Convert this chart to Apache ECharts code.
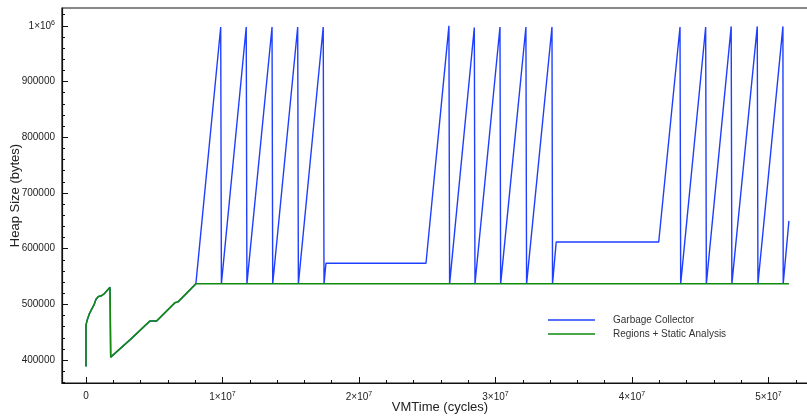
<!DOCTYPE html>
<html>
<head>
<meta charset="utf-8">
<script src="https://cdn.jsdelivr.net/npm/echarts@6/dist/echarts.min.js"></script>
<style>html,body{margin:0;padding:0;background:#fff}#c{width:807px;height:416px}</style>
</head>
<body>
<div id="c"></div>
<script>
// shared start-up phase (both runs identical)
const startTime = [0, 0, 95000, 242000, 388000, 586000, 733000, 900000, 1150000, 1320000, 1758000, 1810000, 3220000, 4690000, 5180000, 6520000, 6760000, 8050000];
const startHeap = [388500, 463300, 472300, 483000, 490100, 499100, 509300, 514000, 515800, 518800, 530800, 405400, 436400, 470400, 470400, 503200, 505000, 537000];

// Garbage Collector (after start-up)
const gcTime = [9870000, 9920000, 11740000, 11790000, 13630000, 13680000, 15510000, 15560000, 17380000, 17440000, 17580000, 24910000,
  26590000, 26640000, 28450000, 28500000, 30330000, 30380000, 32230000, 32280000, 34140000, 34180000, 34450000, 41960000,
  43520000, 43570000, 45400000, 45450000, 47270000, 47320000, 49180000, 49230000, 51060000, 51080000, 51500000];
const gcHeap = [998000, 537000, 998000, 537000, 998000, 537000, 998000, 537000, 998000, 537000, 574000, 574000,
  1000000, 537000, 997000, 537000, 998000, 537000, 998000, 537000, 998000, 537000, 612000, 612000,
  998000, 537000, 998000, 537000, 999000, 537000, 999000, 537000, 999000, 537000, 650000];

// Regions + Static Analysis (after start-up)
const regTime = [51500000];
const regHeap = [537000];

// axis ticks
const xMajorTicks = [0, 10000000, 20000000, 30000000, 40000000, 50000000];
const xTickLabels = ['0', '1×10{sup|7}', '2×10{sup|7}', '3×10{sup|7}', '4×10{sup|7}', '5×10{sup|7}'];
const xMinorTicks = [2e6, 4e6, 6e6, 8e6, 12e6, 14e6, 16e6, 18e6, 22e6, 24e6, 26e6, 28e6, 32e6, 34e6, 36e6, 38e6, 42e6, 44e6, 46e6, 48e6, 52e6];
const yMajorTicks = [400000, 500000, 600000, 700000, 800000, 900000, 1000000];
const yTickLabels = ['400000', '500000', '600000', '700000', '800000', '900000', '1×10{sup|6}'];
const yMinorTicks = [360000, 380000, 420000, 440000, 460000, 480000, 520000, 540000, 560000, 580000, 620000, 640000, 660000, 680000,
  720000, 740000, 760000, 780000, 820000, 840000, 860000, 880000, 920000, 940000, 960000, 980000, 1020000];

const X_MIN = -1758000, X_MAX = 53630000;
const Y_MIN = 359000, Y_MAX = 1032000;

function pairs(t, v) { return t.map((x, i) => [x, v[i]]); }
const gcData = pairs(startTime, startHeap).concat(pairs(gcTime, gcHeap));
const regData = pairs(startTime, startHeap).concat(pairs(regTime, regHeap));

const xLabelMap = {}; xMajorTicks.forEach((v, i) => xLabelMap[v] = xTickLabels[i]);
const yLabelMap = {}; yMajorTicks.forEach((v, i) => yLabelMap[v] = yTickLabels[i]);

const font = 'Liberation Sans, Arial, Helvetica, sans-serif';
const rich = {
  sup: { fontSize: 7, padding: [0, 0, 6, 0], fontFamily: font, color: '#222' }
};

const chart = echarts.init(document.getElementById('c'), null, { renderer: 'canvas' });
chart.setOption({
  animation: false,
  backgroundColor: '#fff',
  grid: { left: 62, top: 8, width: 756, bottom: 33, show: true, borderColor: '#111', borderWidth: 1.2, backgroundColor: 'transparent',
    containLabel: false, outerBoundsMode: 'none' },
  legend: {
    orient: 'vertical', left: 543, top: 308,
    icon: 'rect', itemWidth: 47, itemHeight: 1.5, itemGap: 0,
    textStyle: { fontSize: 10, fontFamily: font, color: '#333', lineHeight: 14, padding: [0, 0, 0, 13] },
    data: ['Garbage Collector', 'Regions + Static Analysis']
  },
  xAxis: [{
    type: 'value', min: X_MIN, max: X_MAX, position: 'bottom',
    name: 'VMTime (cycles)', nameLocation: 'middle', nameGap: 18, nameMoveOverlap: false,
    nameTextStyle: { fontSize: 13, fontFamily: font, color: '#222' },
    axisLine: { show: true, onZero: false, lineStyle: { color: '#111', width: 1.2 } },
    axisTick: { show: true, inside: true, length: 6, customValues: xMajorTicks, lineStyle: { color: '#111', width: 1 } },
    axisLabel: { show: true, customValues: xMajorTicks, margin: 8, fontSize: 10, fontFamily: font, color: '#222',
      formatter: v => xLabelMap[v] !== undefined ? xLabelMap[v] : '', rich: rich },
    splitLine: { show: false }
  }, {
    type: 'value', min: X_MIN, max: X_MAX, position: 'bottom',
    axisLine: { show: false, onZero: false },
    axisTick: { show: true, inside: true, length: 3, customValues: xMinorTicks, lineStyle: { color: '#111', width: 1 } },
    axisLabel: { show: false },
    splitLine: { show: false }
  }],
  yAxis: [{
    type: 'value', min: Y_MIN, max: Y_MAX, position: 'left',
    name: 'Heap Size (bytes)', nameLocation: 'middle', nameGap: 40, nameRotate: 90, nameMoveOverlap: false,
    nameTextStyle: { fontSize: 13, fontFamily: font, color: '#222' },
    axisLine: { show: true, onZero: false, lineStyle: { color: '#111', width: 1.2 } },
    axisTick: { show: true, inside: true, length: 6, customValues: yMajorTicks, lineStyle: { color: '#111', width: 1 } },
    axisLabel: { show: true, customValues: yMajorTicks, margin: 7, fontSize: 10, fontFamily: font, color: '#222',
      formatter: v => yLabelMap[v] !== undefined ? yLabelMap[v] : '', rich: rich },
    splitLine: { show: false }
  }, {
    type: 'value', min: Y_MIN, max: Y_MAX, position: 'left',
    axisLine: { show: false, onZero: false },
    axisTick: { show: true, inside: true, length: 3, customValues: yMinorTicks, lineStyle: { color: '#111', width: 1 } },
    axisLabel: { show: false },
    splitLine: { show: false }
  }],
  series: [{
    name: 'Garbage Collector', type: 'line', data: gcData, showSymbol: false, symbol: 'none',
    xAxisIndex: 0, yAxisIndex: 0,
    lineStyle: { color: '#1f3fff', width: 1.4 }, itemStyle: { color: '#1f3fff' }
  }, {
    name: 'Regions + Static Analysis', type: 'line', data: regData, showSymbol: false, symbol: 'none',
    xAxisIndex: 0, yAxisIndex: 0,
    lineStyle: { color: '#118a11', width: 1.6 }, itemStyle: { color: '#118a11' }
  }]
});
</script>
</body>
</html>
